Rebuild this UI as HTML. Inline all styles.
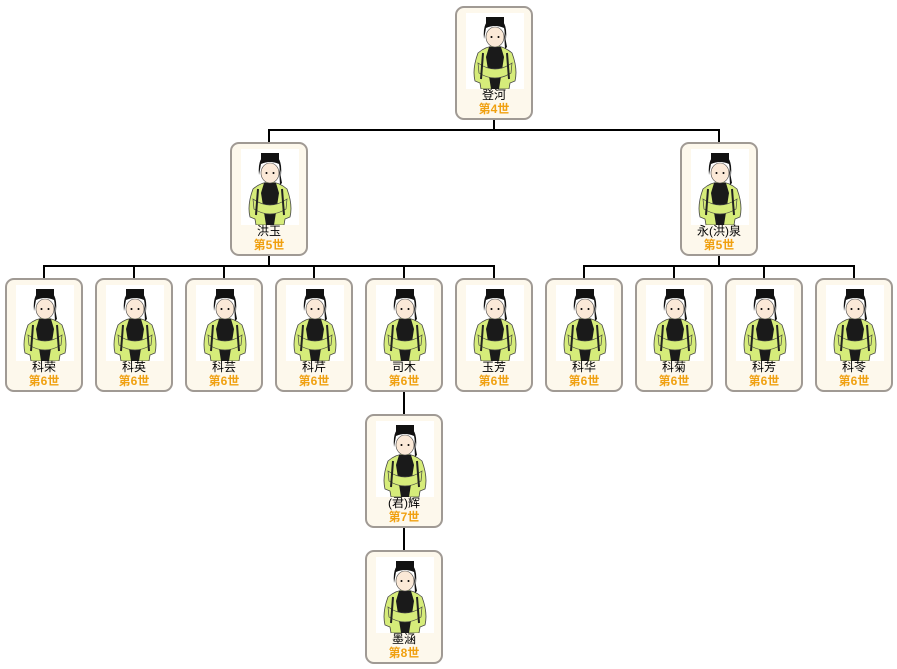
<!DOCTYPE html>
<html><head><meta charset="utf-8">
<style>
body{margin:0;width:897px;height:669px;background:#fff;position:relative;overflow:hidden;font-family:"Liberation Sans","Noto Sans CJK SC",sans-serif}
.n{position:absolute;width:74px;height:110px;border:2px solid #a09a94;border-radius:9px;background:#fdf8ec;box-sizing:content-box}
.n svg{position:absolute;left:9px;top:5px}
.nm{position:absolute;left:0;right:0;top:81px;text-align:center;font-size:12px;color:#000;line-height:13px}
.g{position:absolute;left:0;right:0;top:95px;text-align:center;font-size:12px;color:#f0a010;font-weight:bold;line-height:13px}
.l{position:absolute;background:#000}
</style></head><body>
<svg width="0" height="0" style="position:absolute"><defs>
<g id="p">
<rect x="0" y="0" width="58" height="76" fill="#fff"/>
<path d="M12 40 Q6 56 9 68 L14 70 L15 76 L43 76 L44 70 L49 68 Q52 56 46 40 Q38 33 29 33 Q20 33 12 40Z" fill="#d6ec7a" stroke="#444" stroke-width="0.8"/>
<path d="M23 34 L20 44 L25 76 L33 76 L38 44 L35 34 Z" fill="#1a1a1a"/>
<path d="M12 50 Q29 62 46 50 L45 60 Q29 70 13 60Z" fill="#d6ec7a" stroke="#444" stroke-width="0.7"/>
<path d="M17 40 L15 66 M41 40 L43 66" stroke="#222" stroke-width="2"/>
<ellipse cx="29" cy="24" rx="9" ry="10" fill="#fbe9d7" stroke="#444" stroke-width="0.6"/>
<path d="M18 26 Q16 6 29 5 Q42 6 40 26 L38 15 Q29 11 20 15Z" fill="#111"/>
<rect x="20" y="4" width="18" height="7" fill="#111"/>
<path d="M38 18 L41 34 L39 36 Z" fill="#111"/>
<circle cx="25.5" cy="24" r="1" fill="#000"/><circle cx="32.5" cy="24" r="1" fill="#000"/>
</g></defs></svg>

<div class="l" style="left:493px;top:120px;width:2px;height:11px"></div>
<div class="l" style="left:268px;top:129px;width:452px;height:2px"></div>
<div class="l" style="left:268px;top:129px;width:2px;height:13px"></div>
<div class="l" style="left:718px;top:129px;width:2px;height:13px"></div>

<div class="l" style="left:268px;top:256px;width:2px;height:11px"></div>
<div class="l" style="left:43px;top:265px;width:452px;height:2px"></div>
<div class="l" style="left:718px;top:256px;width:2px;height:11px"></div>
<div class="l" style="left:583px;top:265px;width:272px;height:2px"></div>

<div class="l" style="left:43px;top:265px;width:2px;height:13px"></div>
<div class="l" style="left:133px;top:265px;width:2px;height:13px"></div>
<div class="l" style="left:223px;top:265px;width:2px;height:13px"></div>
<div class="l" style="left:313px;top:265px;width:2px;height:13px"></div>
<div class="l" style="left:403px;top:265px;width:2px;height:13px"></div>
<div class="l" style="left:493px;top:265px;width:2px;height:13px"></div>
<div class="l" style="left:583px;top:265px;width:2px;height:13px"></div>
<div class="l" style="left:673px;top:265px;width:2px;height:13px"></div>
<div class="l" style="left:763px;top:265px;width:2px;height:13px"></div>
<div class="l" style="left:853px;top:265px;width:2px;height:13px"></div>

<div class="l" style="left:403px;top:392px;width:2px;height:22px"></div>
<div class="l" style="left:403px;top:528px;width:2px;height:22px"></div>

<div class="n" style="left:455px;top:6px"><svg width="58" height="76"><use href="#p"/></svg><div class="nm">登河</div><div class="g">第4世</div></div>
<div class="n" style="left:230px;top:142px"><svg width="58" height="76"><use href="#p"/></svg><div class="nm">洪玉</div><div class="g">第5世</div></div>
<div class="n" style="left:680px;top:142px"><svg width="58" height="76"><use href="#p"/></svg><div class="nm">永(洪)泉</div><div class="g">第5世</div></div>

<div class="n" style="left:5px;top:278px"><svg width="58" height="76"><use href="#p"/></svg><div class="nm">科荣</div><div class="g">第6世</div></div>
<div class="n" style="left:95px;top:278px"><svg width="58" height="76"><use href="#p"/></svg><div class="nm">科英</div><div class="g">第6世</div></div>
<div class="n" style="left:185px;top:278px"><svg width="58" height="76"><use href="#p"/></svg><div class="nm">科芸</div><div class="g">第6世</div></div>
<div class="n" style="left:275px;top:278px"><svg width="58" height="76"><use href="#p"/></svg><div class="nm">科芹</div><div class="g">第6世</div></div>
<div class="n" style="left:365px;top:278px"><svg width="58" height="76"><use href="#p"/></svg><div class="nm">司木</div><div class="g">第6世</div></div>
<div class="n" style="left:455px;top:278px"><svg width="58" height="76"><use href="#p"/></svg><div class="nm">玉芳</div><div class="g">第6世</div></div>
<div class="n" style="left:545px;top:278px"><svg width="58" height="76"><use href="#p"/></svg><div class="nm">科华</div><div class="g">第6世</div></div>
<div class="n" style="left:635px;top:278px"><svg width="58" height="76"><use href="#p"/></svg><div class="nm">科菊</div><div class="g">第6世</div></div>
<div class="n" style="left:725px;top:278px"><svg width="58" height="76"><use href="#p"/></svg><div class="nm">科芳</div><div class="g">第6世</div></div>
<div class="n" style="left:815px;top:278px"><svg width="58" height="76"><use href="#p"/></svg><div class="nm">科苓</div><div class="g">第6世</div></div>

<div class="n" style="left:365px;top:414px"><svg width="58" height="76"><use href="#p"/></svg><div class="nm">(君)辉</div><div class="g">第7世</div></div>
<div class="n" style="left:365px;top:550px"><svg width="58" height="76"><use href="#p"/></svg><div class="nm">墨涵</div><div class="g">第8世</div></div>
</body></html>
